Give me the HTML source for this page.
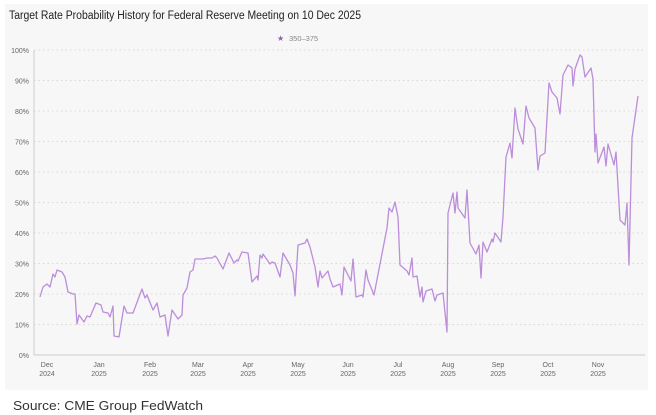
<!DOCTYPE html>
<html><head><meta charset="utf-8"><style>
body{margin:0;width:656px;height:415px;background:#fff;overflow:hidden;font-family:"Liberation Sans",sans-serif}
</style></head><body>
<svg width="656" height="415" xmlns="http://www.w3.org/2000/svg" style="position:absolute;left:0;top:0">
<rect x="5" y="4" width="643" height="386" fill="#f7f7f7"/>
<text x="9" y="19" font-size="11.5" fill="#222" textLength="352" lengthAdjust="spacingAndGlyphs" font-family="Liberation Sans, sans-serif">Target Rate Probability History for Federal Reserve Meeting on 10 Dec 2025</text>
<text x="277" y="41" font-size="8" fill="#9b59b6">★</text>
<text x="289" y="41" font-size="7.5" fill="#888">350–375</text>
<g stroke="#d8d8d8" stroke-width="1" stroke-dasharray="1.5,3">
<line x1="34" y1="50" x2="645" y2="50"/><line x1="34" y1="80.5" x2="645" y2="80.5"/><line x1="34" y1="111" x2="645" y2="111"/><line x1="34" y1="141.5" x2="645" y2="141.5"/><line x1="34" y1="172" x2="645" y2="172"/><line x1="34" y1="202.5" x2="645" y2="202.5"/><line x1="34" y1="233" x2="645" y2="233"/><line x1="34" y1="263.5" x2="645" y2="263.5"/><line x1="34" y1="294" x2="645" y2="294"/><line x1="34" y1="324.5" x2="645" y2="324.5"/>
</g>
<line x1="34" y1="50" x2="34" y2="355" stroke="#ccc"/>
<line x1="34" y1="355" x2="645" y2="355" stroke="#ccc"/>
<g font-size="7" fill="#666" text-anchor="end">
<text x="29" y="53">100%</text><text x="29" y="83.5">90%</text><text x="29" y="114">80%</text><text x="29" y="144.5">70%</text><text x="29" y="175">60%</text><text x="29" y="205.5">50%</text><text x="29" y="236">40%</text><text x="29" y="266.5">30%</text><text x="29" y="297">20%</text><text x="29" y="327.5">10%</text><text x="29" y="358">0%</text>
</g>
<g font-size="7" fill="#666" text-anchor="middle">
<text x="47" y="367">Dec</text><text x="47" y="376">2024</text>
<text x="99" y="367">Jan</text><text x="99" y="376">2025</text>
<text x="150" y="367">Feb</text><text x="150" y="376">2025</text>
<text x="198" y="367">Mar</text><text x="198" y="376">2025</text>
<text x="248" y="367">Apr</text><text x="248" y="376">2025</text>
<text x="298" y="367">May</text><text x="298" y="376">2025</text>
<text x="348" y="367">Jun</text><text x="348" y="376">2025</text>
<text x="398" y="367">Jul</text><text x="398" y="376">2025</text>
<text x="448" y="367">Aug</text><text x="448" y="376">2025</text>
<text x="498" y="367">Sep</text><text x="498" y="376">2025</text>
<text x="548" y="367">Oct</text><text x="548" y="376">2025</text>
<text x="598" y="367">Nov</text><text x="598" y="376">2025</text>
</g>
<polyline fill="none" stroke="#bb8ddb" stroke-width="1.3" stroke-linejoin="round" points="40,297 43,287 47,284 50,287 53,274 55,277 57,270 62,272 65,277 68,292 73,294 75,294 77,324 79,315 84,322 87,316 90,317 96,303 101,305 103,312 108,313 110,317 113,306 114,336 119,337 124,306 127,313 133,313 142,289 145,298 147,295 153,310 157,303 160,317 165,315 168,336 172,310 178,319 182,315 183,295 187,288 190,272 193,270 195,259 203,259 207,258 212,258 215,256 217,258 223,269 229,253 234,263 237,260 238,261 242,252 248,253 252,282 257,276 258,280 260,255 262,258 263,254 270,264 272,262 275,263 280,277 283,253 290,265 293,273 295,296 298,245 305,243 307,239 310,247 315,267 318,287 320,271 322,278 328,271 330,279 333,287 340,284 342,295 344,267 351,281 353,259 356,297 362,295 363,297 366,270 368,280 374,295 387,228 389,208 392,212 395,202 398,217 400,265 407,271 409,275 412,258 413,277 417,276 420,297 422,287 423,302 426,291 432,289 435,301 437,295 443,293 447,332 448,213 453,193 455,213 457,192 458,208 465,218 467,190 470,243 476,254 479,245 481,278 483,242 487,252 492,239 493,242 495,233 501,242 503,217 506,157 510,143 512,158 515,108 518,129 523,144 526,106 529,118 535,128 538,170 540,156 545,153 549,83 552,92 557,98 560,114 563,75 568,65 572,68 573,86 575,69 580,55 582,57 585,77 591,68 593,79 595,152 596,134 598,163 604,147 606,166 608,144 614,165 616,152 620,220 625,225 627,203 629,265 632,138 638,96"/>
<text x="13" y="410" font-size="13" fill="#333" textLength="190" lengthAdjust="spacingAndGlyphs">Source: CME Group FedWatch</text>
</svg>
</body></html>
